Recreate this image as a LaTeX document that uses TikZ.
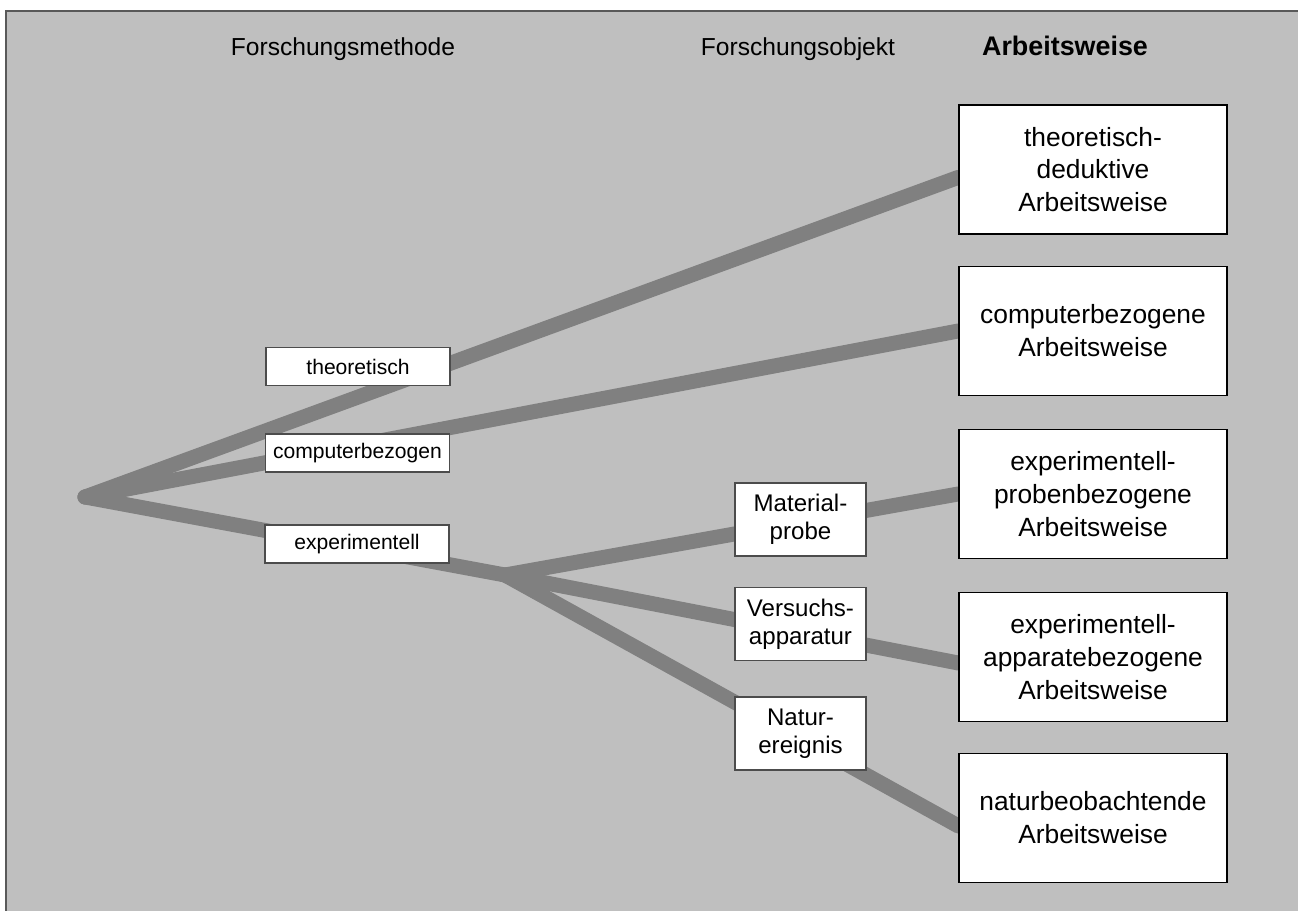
\documentclass[tikz,border=0pt]{standalone}
\usepackage{fontspec}
\setmainfont{Liberation Sans}
\usetikzlibrary{backgrounds}
\definecolor{panelgray}{gray}{0.75}
\definecolor{strandgray}{gray}{0.5}

\begin{document}
\begin{tikzpicture}[x=0.02cm, y=-0.02cm,
    strand/.style = {draw=strandgray, line width=8.5pt, line cap=round, line join=round},
    header/.style = {anchor=base, inner sep=0pt, font=\fontsize{14}{17}\selectfont},
    box/.style = {shape=rectangle, fill=white, align=center, inner sep=0pt},
    bigbox/.style = {box, draw=black, line width=1pt, minimum width=5.36cm,
      minimum height=2.58cm, font=\fontsize{15}{18.7}\selectfont},
    midbox/.style = {box, draw=gray!60!black, line width=0.6pt, minimum width=2.62cm,
      minimum height=1.46cm, font=\fontsize{13.7}{15.9}\selectfont},
    smallbox/.style = {box, draw=gray!60!black, line width=0.6pt, minimum width=3.68cm,
      minimum height=0.76cm, font=\fontsize{12}{14}\selectfont}]
  \useasboundingbox (0,0) rectangle (1298,911);

  % column titles
  \node[header] (hmethode) at (343,56) {Forschungsmethode};
  \node[header] (hobjekt) at (798,56) {Forschungsobjekt};
  \node[header, font=\fontsize{15.3}{18}\selectfont\bfseries] (hweise) at (1065,56) {Arbeitsweise};

  % Arbeitsweisen
  \node[bigbox] (deduktiv) at (1093,169.5) {theoretisch-\\deduktive\\Arbeitsweise};
  \node[bigbox] (computer) at (1093,331) {computerbezogene\\Arbeitsweise};
  \node[bigbox] (probe) at (1093,494) {experimentell-\\probenbezogene\\Arbeitsweise};
  \node[bigbox] (apparat) at (1093,657) {experimentell-\\apparatebezogene\\Arbeitsweise};
  \node[bigbox] (natur) at (1093,818) {naturbeobachtende\\Arbeitsweise};

  % Forschungsmethoden
  \node[smallbox] (theo) at (358,366.5) {theoretisch};
  \node[smallbox] (comp) at (357.5,453) {computerbezogen};
  \node[smallbox] (exp) at (357,544) {experimentell};

  % Forschungsobjekte
  \node[midbox] (material) at (800.5,519.5) {Material-\\probe};
  \node[midbox] (versuch) at (800.5,624) {Versuchs-\\apparatur};
  \node[midbox] (ereignis) at (800.5,733.5) {Natur-\\ereignis};

  \coordinate (root) at (85,497);
  \coordinate (branch) at (505,575);

  \begin{pgfonlayer}{background}
    \fill[panelgray, draw=gray!70!black, line width=0.6pt] (6,11) rectangle (1304,917);
    \draw[strand] (root) -- ([yshift=-4.5pt]deduktiv.west);
    \draw[strand] (root) -- (computer.west);
    \draw[strand] (root) -- (branch);
    \draw[strand] (branch) -- (probe.west);
    \draw[strand] (branch) -- ([yshift=-3.4pt]apparat.west);
    \draw[strand] (branch) -- ([yshift=-4.5pt]natur.west);
  \end{pgfonlayer}
\end{tikzpicture}
\end{document}
